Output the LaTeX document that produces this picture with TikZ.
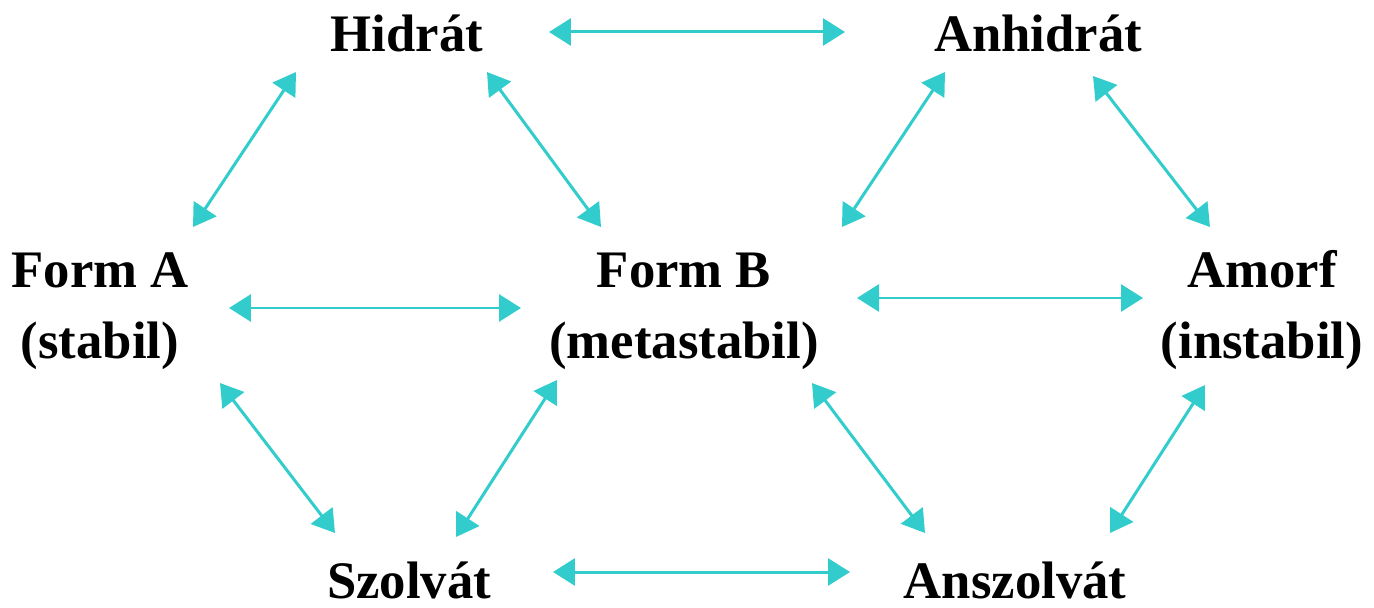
\documentclass[tikz,border=0pt]{standalone}
\usepackage{fontspec}
\setmainfont{Liberation Serif}
\usetikzlibrary{arrows.meta}

\definecolor{turq}{HTML}{33CCCC}

\tikzset{
  lbl/.style={draw=none, inner sep=0pt, anchor=base, align=center,
    font=\bfseries\fontsize{30}{40.3}\selectfont},
  link/.style={turq, line width=0.06cm,
    {Triangle[length=0.44cm,width=0.54cm]}-{Triangle[length=0.44cm,width=0.54cm]}}
}

\begin{document}
\begin{tikzpicture}[x=0.02cm, y=-0.02cm]
\useasboundingbox (0,0) rectangle (1374,608);

\node[lbl] (hid) at (407,52) {Hidrát};
\node[lbl] (anh) at (1038,52) {Anhidrát};

% two-line labels sit on their lower line
\node[lbl] (fa) at (100,358) {Form A\\(stabil)};
\node[lbl] (fb) at (684,358) {Form B\\(metastabil)};
\node[lbl] (am) at (1262,358) {Amorf\\(instabil)};

\node[lbl] (sz) at (409,598) {Szolvát};
\node[lbl] (ansz) at (1015,598) {Anszolvát};

% top row
\draw[link] ([shift={(142,-20)}]hid.base) -- ([shift={(-193,-20)}]anh.base);
\draw[link] ([shift={(-111,20)}]hid.base) -- ([shift={(93,-131)}]fa.base);
\draw[link] ([shift={(80,20)}]hid.base) -- ([shift={(-83,-131)}]fb.base);
\draw[link] ([shift={(-93,20)}]anh.base) -- ([shift={(158,-131)}]fb.base);
\draw[link] ([shift={(55,24)}]anh.base) -- ([shift={(-52,-131)}]am.base);

% middle row
\draw[link] ([shift={(129,-50)}]fa.base) -- ([shift={(-163,-50)}]fb.base);
\draw[link] ([shift={(173,-60)}]fb.base) -- ([shift={(-119,-60)}]am.base);

% bottom row
\draw[link] ([shift={(120,25)}]fa.base) -- ([shift={(-74,-65)}]sz.base);
\draw[link] ([shift={(-127,22)}]fb.base) -- ([shift={(47,-61)}]sz.base);
\draw[link] ([shift={(128,25)}]fb.base) -- ([shift={(-90,-65)}]ansz.base);
\draw[link] ([shift={(-57,27)}]am.base) -- ([shift={(95,-65)}]ansz.base);
\draw[link] ([shift={(144,-26)}]sz.base) -- ([shift={(-165,-26)}]ansz.base);
\end{tikzpicture}
\end{document}
